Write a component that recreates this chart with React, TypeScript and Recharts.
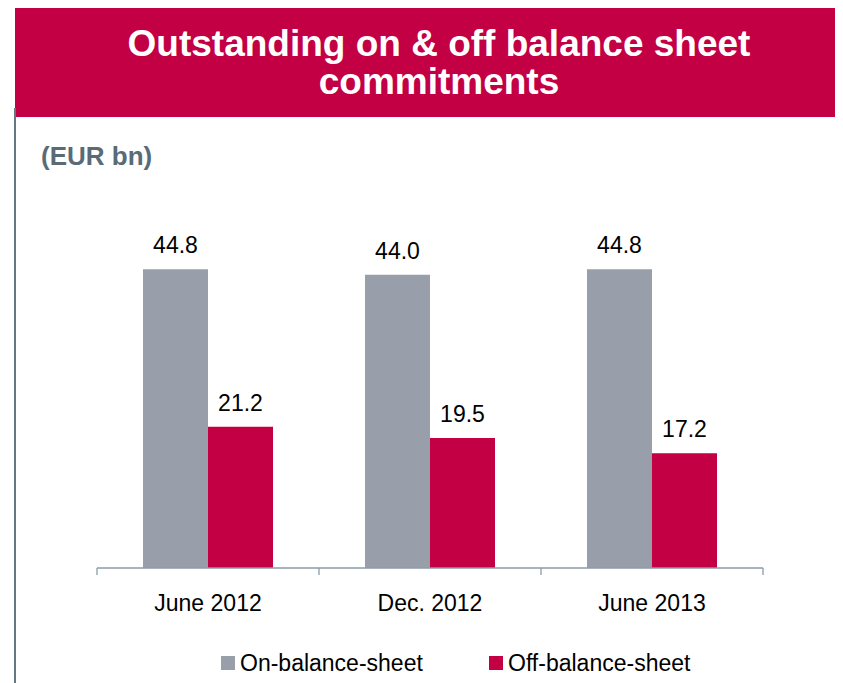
import { Bar, BarChart, LabelList, XAxis, YAxis } from "recharts";

const categories = ["June 2012", "Dec. 2012", "June 2013"];
const onBalance = [44.8, 44.0, 44.8];
const offBalance = [21.2, 19.5, 17.2];

const RED = "#C30044";
const GREY = "#989FAA";
const FONT = "'Liberation Sans', Arial, sans-serif";

const data = categories.map((label, i) => ({
  label,
  on: onBalance[i],
  off: offBalance[i],
}));

// tick label plus a tick mark at each band boundary
function BandTick(props: any) {
  const { x, y, payload, index } = props;
  const half = payload?.offset || 111;
  return (
    <g>
      <line x1={x - half} x2={x - half} y1={y} y2={y + 7} stroke="#8D9BA8" strokeWidth={1.3} />
      {index === categories.length - 1 && (
        <line x1={x + half} x2={x + half} y1={y} y2={y + 7} stroke="#8D9BA8" strokeWidth={1.3} />
      )}
      <text x={x} y={y + 43} textAnchor="middle" fontSize={23} fill="#000" fontFamily={FONT}>
        {payload.value}
      </text>
    </g>
  );
}

export default function App() {
  return (
    <div style={{ position: "absolute", left: 0, top: 0, width: 843, height: 683, background: "#fff", fontFamily: FONT }}>
      <div
        style={{
          position: "absolute",
          left: 15,
          top: 8,
          width: 820,
          height: 109,
          background: RED,
          color: "#fff",
          fontWeight: 700,
          fontSize: 37,
          lineHeight: "38px",
          textAlign: "center",
          paddingTop: 17,
          paddingLeft: 28,
          boxSizing: "border-box",
        }}
      >
        Outstanding on &amp; off balance sheet
        <br />
        commitments
      </div>
      <div style={{ position: "absolute", left: 14, top: 108, width: 2, height: 575, background: "#667784" }} />
      <div style={{ position: "absolute", left: 41, top: 141, fontSize: 26, lineHeight: "30px", fontWeight: 700, color: "#5A6B78" }}>
        (EUR bn)
      </div>
      <div style={{ position: "absolute", left: 0, top: 0 }}>
        <BarChart
          width={843}
          height={683}
          data={data}
          margin={{ top: 168, right: 80, bottom: 55, left: 97 }}
          barGap={0}
          barCategoryGap={46}
        >
          <YAxis hide domain={[0, 60]} />
          <XAxis
            dataKey="label"
            axisLine={{ stroke: "#8D9BA8", strokeWidth: 1.3 }}
            tickLine={false}
            tickSize={0}
            tickMargin={0}
            height={60}
            tick={<BandTick />}
            interval={0}
          />
          <Bar dataKey="on" fill={GREY} isAnimationActive={false}>
            <LabelList dataKey="on" position="top" offset={16} fontSize={23} fill="#000" fontFamily={FONT} formatter={(v: any) => Number(v).toFixed(1)} />
          </Bar>
          <Bar dataKey="off" fill={RED} isAnimationActive={false}>
            <LabelList dataKey="off" position="top" offset={16} fontSize={23} fill="#000" fontFamily={FONT} formatter={(v: any) => Number(v).toFixed(1)} />
          </Bar>
        </BarChart>
      </div>
      <div style={{ position: "absolute", left: 221, top: 656, width: 14, height: 14, background: GREY }} />
      <div style={{ position: "absolute", left: 240, top: 650, fontSize: 23, lineHeight: "26px", color: "#000" }}>On-balance-sheet</div>
      <div style={{ position: "absolute", left: 489, top: 656, width: 14, height: 14, background: RED }} />
      <div style={{ position: "absolute", left: 508, top: 650, fontSize: 23, lineHeight: "26px", color: "#000" }}>Off-balance-sheet</div>
    </div>
  );
}
